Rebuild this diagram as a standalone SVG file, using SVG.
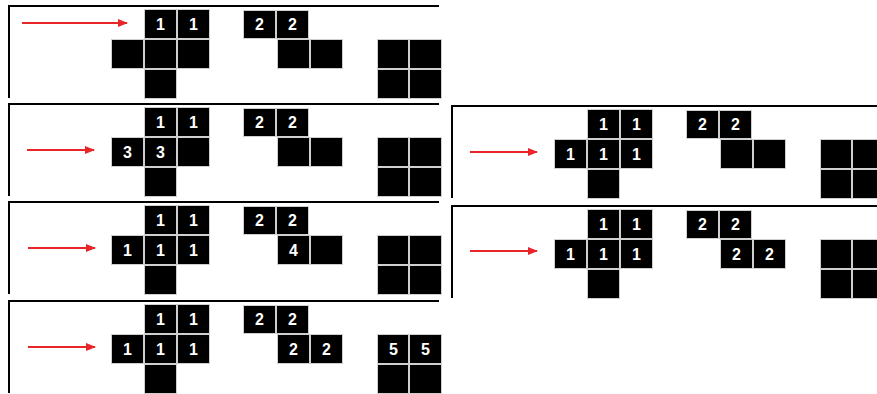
<svg xmlns="http://www.w3.org/2000/svg" xmlns:xlink="http://www.w3.org/1999/xlink" width="877" height="394" viewBox="0 0 877 394">
<style>
.c{fill:#000;stroke:#cfcfcf;stroke-width:1}
.f{fill:none;stroke:#000;stroke-width:2}
.t{fill:#fff;font-family:"Liberation Sans",Arial,sans-serif;font-weight:bold;font-size:16px;text-anchor:middle}
.a{stroke:#e8262a;stroke-width:2;fill:none}
</style>
<defs>
<marker id="ah" markerWidth="10" markerHeight="8" refX="9" refY="4" orient="auto" markerUnits="userSpaceOnUse">
<path d="M0,0 L10,4 L0,8 Z" fill="#e8262a"/>
</marker>
<g id="cells">
<rect class="c" x="135.5" y="3.5" width="32" height="29"/>
<rect class="c" x="168.5" y="3.5" width="32" height="29"/>
<rect class="c" x="102.5" y="33.5" width="32" height="29"/>
<rect class="c" x="135.5" y="33.5" width="32" height="29"/>
<rect class="c" x="168.5" y="33.5" width="32" height="29"/>
<rect class="c" x="135.5" y="63.5" width="32" height="29"/>
<rect class="c" x="234.5" y="4.5" width="32" height="28"/>
<rect class="c" x="267.5" y="4.5" width="32" height="28"/>
<rect class="c" x="268.5" y="33.5" width="32" height="29"/>
<rect class="c" x="301.5" y="33.5" width="32" height="29"/>
<rect class="c" x="368.5" y="33.5" width="31" height="29"/>
<rect class="c" x="400.5" y="33.5" width="32" height="29"/>
<rect class="c" x="368.5" y="63.5" width="31" height="29"/>
<rect class="c" x="400.5" y="63.5" width="32" height="29"/>
</g>
<path id="frame" class="f" d="M0,92 V0 H430"/>
</defs>

<g id="panel1" transform="translate(9,6)">
<use xlink:href="#frame"/>
<use xlink:href="#cells"/>
<text class="t" x="151.5" y="24">1</text><text class="t" x="184.5" y="24">1</text>
<text class="t" x="250.5" y="24">2</text><text class="t" x="283.5" y="24">2</text>
</g>

<g id="panel2" transform="translate(9,104)">
<use xlink:href="#frame"/>
<use xlink:href="#cells"/>
<text class="t" x="151.5" y="24">1</text><text class="t" x="184.5" y="24">1</text>
<text class="t" x="118.5" y="54">3</text><text class="t" x="151.5" y="54">3</text>
<text class="t" x="250.5" y="24">2</text><text class="t" x="283.5" y="24">2</text>
</g>

<g id="panel3" transform="translate(452,106)">
<use xlink:href="#frame"/>
<use xlink:href="#cells"/>
<text class="t" x="151.5" y="24">1</text><text class="t" x="184.5" y="24">1</text>
<text class="t" x="118.5" y="54">1</text><text class="t" x="151.5" y="54">1</text><text class="t" x="184.5" y="54">1</text>
<text class="t" x="250.5" y="24">2</text><text class="t" x="283.5" y="24">2</text>
</g>

<g id="panel4" transform="translate(9,202)">
<use xlink:href="#frame"/>
<use xlink:href="#cells"/>
<text class="t" x="151.5" y="24">1</text><text class="t" x="184.5" y="24">1</text>
<text class="t" x="118.5" y="54">1</text><text class="t" x="151.5" y="54">1</text><text class="t" x="184.5" y="54">1</text>
<text class="t" x="250.5" y="24">2</text><text class="t" x="283.5" y="24">2</text>
<text class="t" x="284.5" y="54">4</text>
</g>

<g id="panel5" transform="translate(452,206)">
<use xlink:href="#frame"/>
<use xlink:href="#cells"/>
<text class="t" x="151.5" y="24">1</text><text class="t" x="184.5" y="24">1</text>
<text class="t" x="118.5" y="54">1</text><text class="t" x="151.5" y="54">1</text><text class="t" x="184.5" y="54">1</text>
<text class="t" x="250.5" y="24">2</text><text class="t" x="283.5" y="24">2</text>
<text class="t" x="284.5" y="54">2</text><text class="t" x="317.5" y="54">2</text>
</g>

<g id="panel6" transform="translate(9,301)">
<use xlink:href="#frame"/>
<use xlink:href="#cells"/>
<text class="t" x="151.5" y="24">1</text><text class="t" x="184.5" y="24">1</text>
<text class="t" x="118.5" y="54">1</text><text class="t" x="151.5" y="54">1</text><text class="t" x="184.5" y="54">1</text>
<text class="t" x="250.5" y="24">2</text><text class="t" x="283.5" y="24">2</text>
<text class="t" x="284.5" y="54">2</text><text class="t" x="317.5" y="54">2</text>
<text class="t" x="384.5" y="54">5</text><text class="t" x="416.5" y="54">5</text>
</g>

<g id="connectors">
<line class="a" x1="22" y1="23" x2="127" y2="23" marker-end="url(#ah)"/>
<line class="a" x1="27" y1="150" x2="94" y2="150" marker-end="url(#ah)"/>
<line class="a" x1="470" y1="152" x2="537" y2="152" marker-end="url(#ah)"/>
<line class="a" x1="28" y1="248" x2="95" y2="248" marker-end="url(#ah)"/>
<line class="a" x1="470" y1="251" x2="537" y2="251" marker-end="url(#ah)"/>
<line class="a" x1="28" y1="347" x2="95" y2="347" marker-end="url(#ah)"/>
</g>
</svg>
